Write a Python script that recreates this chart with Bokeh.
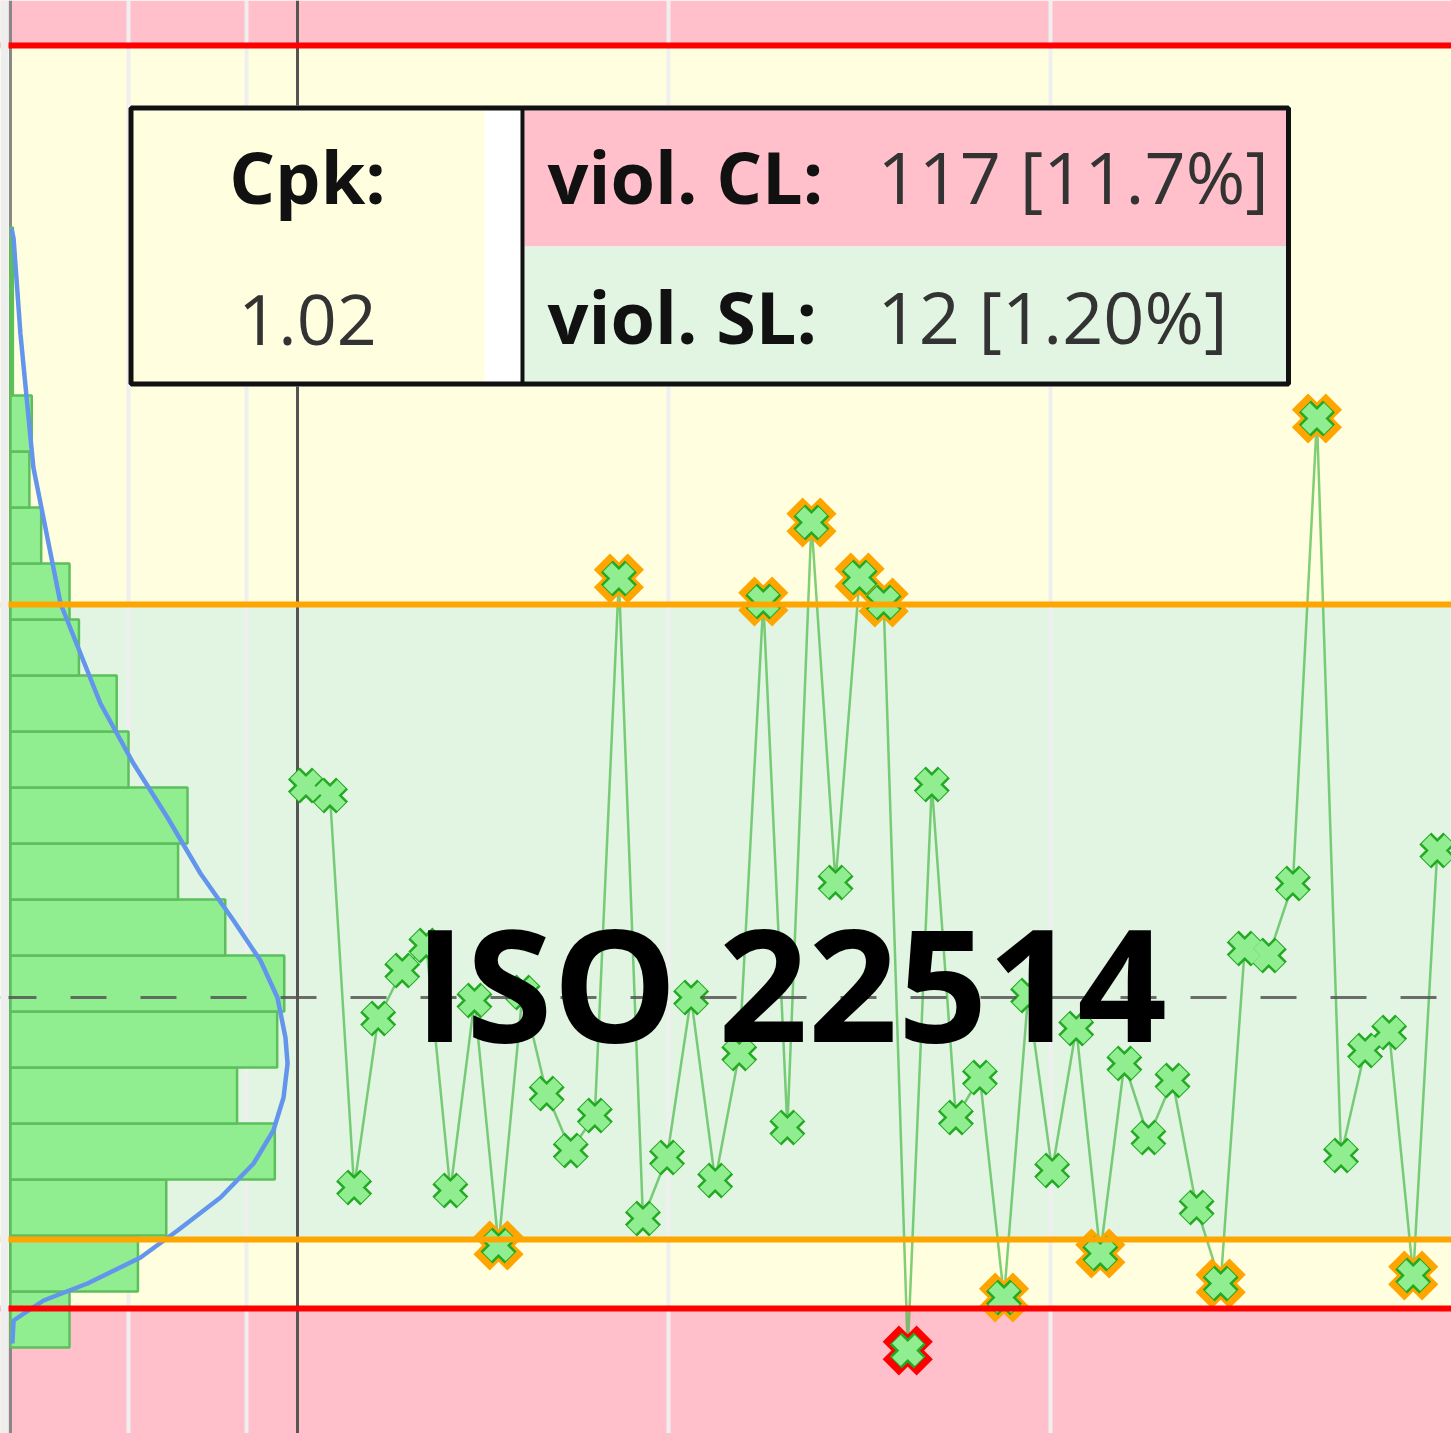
from bokeh.plotting import figure
from bokeh.models import Range1d, Grid, FixedTicker, ColumnDataSource
from bokeh.embed import file_html
from bokeh.resources import INLINE
from bokeh.core.properties import value

# ---------------- data ----------------
sample_no = list(range(48))
measurements = [71.2, 70.2, 31.0, 47.9, 52.7, 55.2, 30.7, 49.7, 25.2, 50.5,
                40.4, 34.7, 38.2, 91.9, 27.9, 34.0, 50.0, 31.7, 44.4, 89.6,
                37.0, 97.5, 61.5, 92.0, 89.5, 14.7, 71.3, 38.0, 42.0, 20.0,
                50.2, 32.7, 46.9, 24.4, 43.4, 36.0, 41.7, 29.0, 21.4, 54.9,
                54.2, 61.4, 107.9, 34.2, 44.7, 46.5, 22.2, 64.7]
mean_value = 50.0
ucl, lcl = 89.3, 25.8          # control limits
usl, lsl = 145.2, 18.9         # specification limits

hist_centers = [17.8, 23.4, 29.0, 34.6, 40.2, 45.8, 51.4, 57.0, 62.6, 68.2,
                73.8, 79.4, 85.0, 90.6, 96.2, 101.8, 107.4, 113.0, 118.6, 124.2]
hist_counts = [25, 54, 66, 112, 96, 113, 116, 91, 71, 75,
               50, 45, 29, 25, 13, 8, 9, 1, 1, 1]
bin_width = 5.6

curve_vals = [126.9, 125.9, 116.4, 103.0, 89.4, 79.4, 73.4, 68.0, 62.4, 57.7,
              53.7, 50.0, 46.0, 43.4, 40.0, 36.7, 33.4, 30.0, 26.7, 24.0,
              21.4, 19.7, 17.7, 15.4]
curve_dens = [0.4, 1.3, 4.2, 9.7, 21.2, 38.1, 52.1, 66.5, 80.5, 94.5,
              105.9, 113.1, 116.5, 117.4, 115.7, 111.4, 103.0, 89.0, 70.8, 55.1,
              32.6, 14.0, 1.3, 0.8]

main_grid_x = [15.06, 30.93]
hist_grid_x = [50, 100]

cpk_label, cpk_value = "Cpk:", "1.02"
cl_label, cl_value = "viol. CL:", "117 [11.7%]"
sl_label, sl_value = "viol. SL:", "12 [1.20%]"
watermark = "ISO 22514"

# ---------------- styling ----------------
PINK = "#FFC0CB"
YELLOW = "#FFFFE0"
GREEN_BG = "#E2F5E2"
FONT = value("Open Sans")
BL = 0.41  # baseline correction factor (fraction of font size)

W, H = 1451, 1433
X0, X1 = -12.69, 47.59
Y0, Y1 = 6.4, 149.7

p = figure(width=W, height=H, x_range=Range1d(X0, X1), y_range=Range1d(Y0, Y1),
           output_backend="svg", toolbar_location=None, min_border=0,
           x_axis_location=None, y_axis_location=None, title=None)
p.outline_line_color = None
p.background_fill_color = YELLOW
p.border_fill_color = "white"
p.center = [r for r in p.center if not isinstance(r, Grid)]
p.extra_x_ranges = {"hist": Range1d(-4.24, 610.6), "px": Range1d(0, W)}
p.extra_y_ranges = {"px": Range1d(H, 0)}

# background bands (below grid)
band_y0 = [usl, ucl, lcl, lsl, Y0]
band_y1 = [Y1, usl, ucl, lcl, lsl]
band_col = [PINK, YELLOW, GREEN_BG, YELLOW, PINK]
p.hstrip(y0=band_y0, y1=band_y1, fill_color=band_col, line_color=None, level="image")

# grids
p.add_layout(Grid(dimension=0, ticker=FixedTicker(ticks=main_grid_x),
                  grid_line_color="#EFEFEF", grid_line_width=4))
p.add_layout(Grid(dimension=0, ticker=FixedTicker(ticks=hist_grid_x), x_range_name="hist",
                  grid_line_color="#EFEFEF", grid_line_width=4))

# left baseline of histogram and axis of the run chart
p.vspan(x=[0], x_range_name="hist", line_color="#888888", line_width=3)
p.vspan(x=[297], x_range_name="px", line_color="#555555", line_width=3)

# histogram
p.hbar(y=hist_centers, height=bin_width, left=0, right=hist_counts, x_range_name="hist",
       fill_color="#90EE90", line_color="#5CBF5C", line_width=2.5)
p.line(x=curve_dens, y=curve_vals, x_range_name="hist", line_color="#6495ED", line_width=4.5)

# run chart
src = ColumnDataSource(dict(x=sample_no, y=measurements))
p.line("x", "y", source=src, line_color="#3CB43C", line_alpha=0.65, line_width=2.5)

sl_x = [x for x, v in zip(sample_no, measurements) if v > usl or v < lsl]
sl_y = [v for v in measurements if v > usl or v < lsl]
cl_x = [x for x, v in zip(sample_no, measurements) if (v > ucl or v < lcl) and not (v > usl or v < lsl)]
cl_y = [v for v in measurements if (v > ucl or v < lcl) and not (v > usl or v < lsl)]

p.scatter(cl_x, cl_y, marker="x", size=48, line_width=23, line_color="#FFA500")
p.scatter(sl_x, sl_y, marker="x", size=48, line_width=23, line_color="#FF0000")
p.scatter("x", "y", source=src, marker="x", size=34, line_width=17, line_color="#22AA22")
p.scatter("x", "y", source=src, marker="x", size=32, line_width=12, line_color="#90EE90")

# limit lines
p.hspan(y=[usl, lsl], line_color="#FF0000", line_width=6)
p.hspan(y=[ucl, lcl], line_color="#FFA500", line_width=6)
p.hspan(y=[mean_value], line_color="#555555", line_width=3, line_dash="36 34", line_alpha=0.85)

# statistics table
p.quad(left=[128], right=[1290], top=[105], bottom=[386], x_range_name="px", y_range_name="px",
       fill_color="white", line_color=None)
p.quad(left=[133, 524, 524], right=[484, 1287, 1287], top=[110, 110, 246], bottom=[381, 246, 381],
       x_range_name="px", y_range_name="px", fill_color=[YELLOW, PINK, GREEN_BG], line_color=None)
p.segment(x0=[522], y0=[107], x1=[522], y1=[384], x_range_name="px", y_range_name="px",
          line_color="#111111", line_width=4)
p.quad(left=[130.5], right=[1288], top=[107.5], bottom=[383.5], x_range_name="px", y_range_name="px",
       fill_color=None, line_color="#111111", line_width=5)

p.text(x=[307], y=[205 - BL * 72], text=[cpk_label], x_range_name="px", y_range_name="px",
       text_font=FONT, text_font_style="bold", text_font_size="72px", text_align="center",
       text_baseline="alphabetic", text_color="#111111")
p.text(x=[307], y=[348 - BL * 70], text=[cpk_value], x_range_name="px", y_range_name="px",
       text_font=FONT, text_font_size="70px", text_align="center",
       text_baseline="alphabetic", text_color="#333333")
p.text(x=[547, 547], y=[205 - BL * 72, 345 - BL * 72], text=[cl_label, sl_label],
       x_range_name="px", y_range_name="px",
       text_font=FONT, text_font_style="bold", text_font_size="72px", text_align="left",
       text_baseline="alphabetic", text_color="#111111")
p.text(x=[877, 877], y=[205 - BL * 72, 345 - BL * 72], text=[cl_value, sl_value],
       x_range_name="px", y_range_name="px",
       text_font=FONT, text_font_size="72px", text_align="left",
       text_baseline="alphabetic", text_color="#333333")

# watermark
p.text(x=[790], y=[1043 - 0.40 * 157], text=[watermark], x_range_name="px", y_range_name="px",
       text_font=FONT, text_font_style="bold", text_font_size="157px", text_align="center",
       text_baseline="alphabetic", text_color="#000000")

# left page strip as in the reference screenshot
p.vstrip(x0=[0], x1=[8], x_range_name="px", fill_color="#EEEEEE", line_color=None)

open("out.html", "w").write(file_html(p, INLINE))
